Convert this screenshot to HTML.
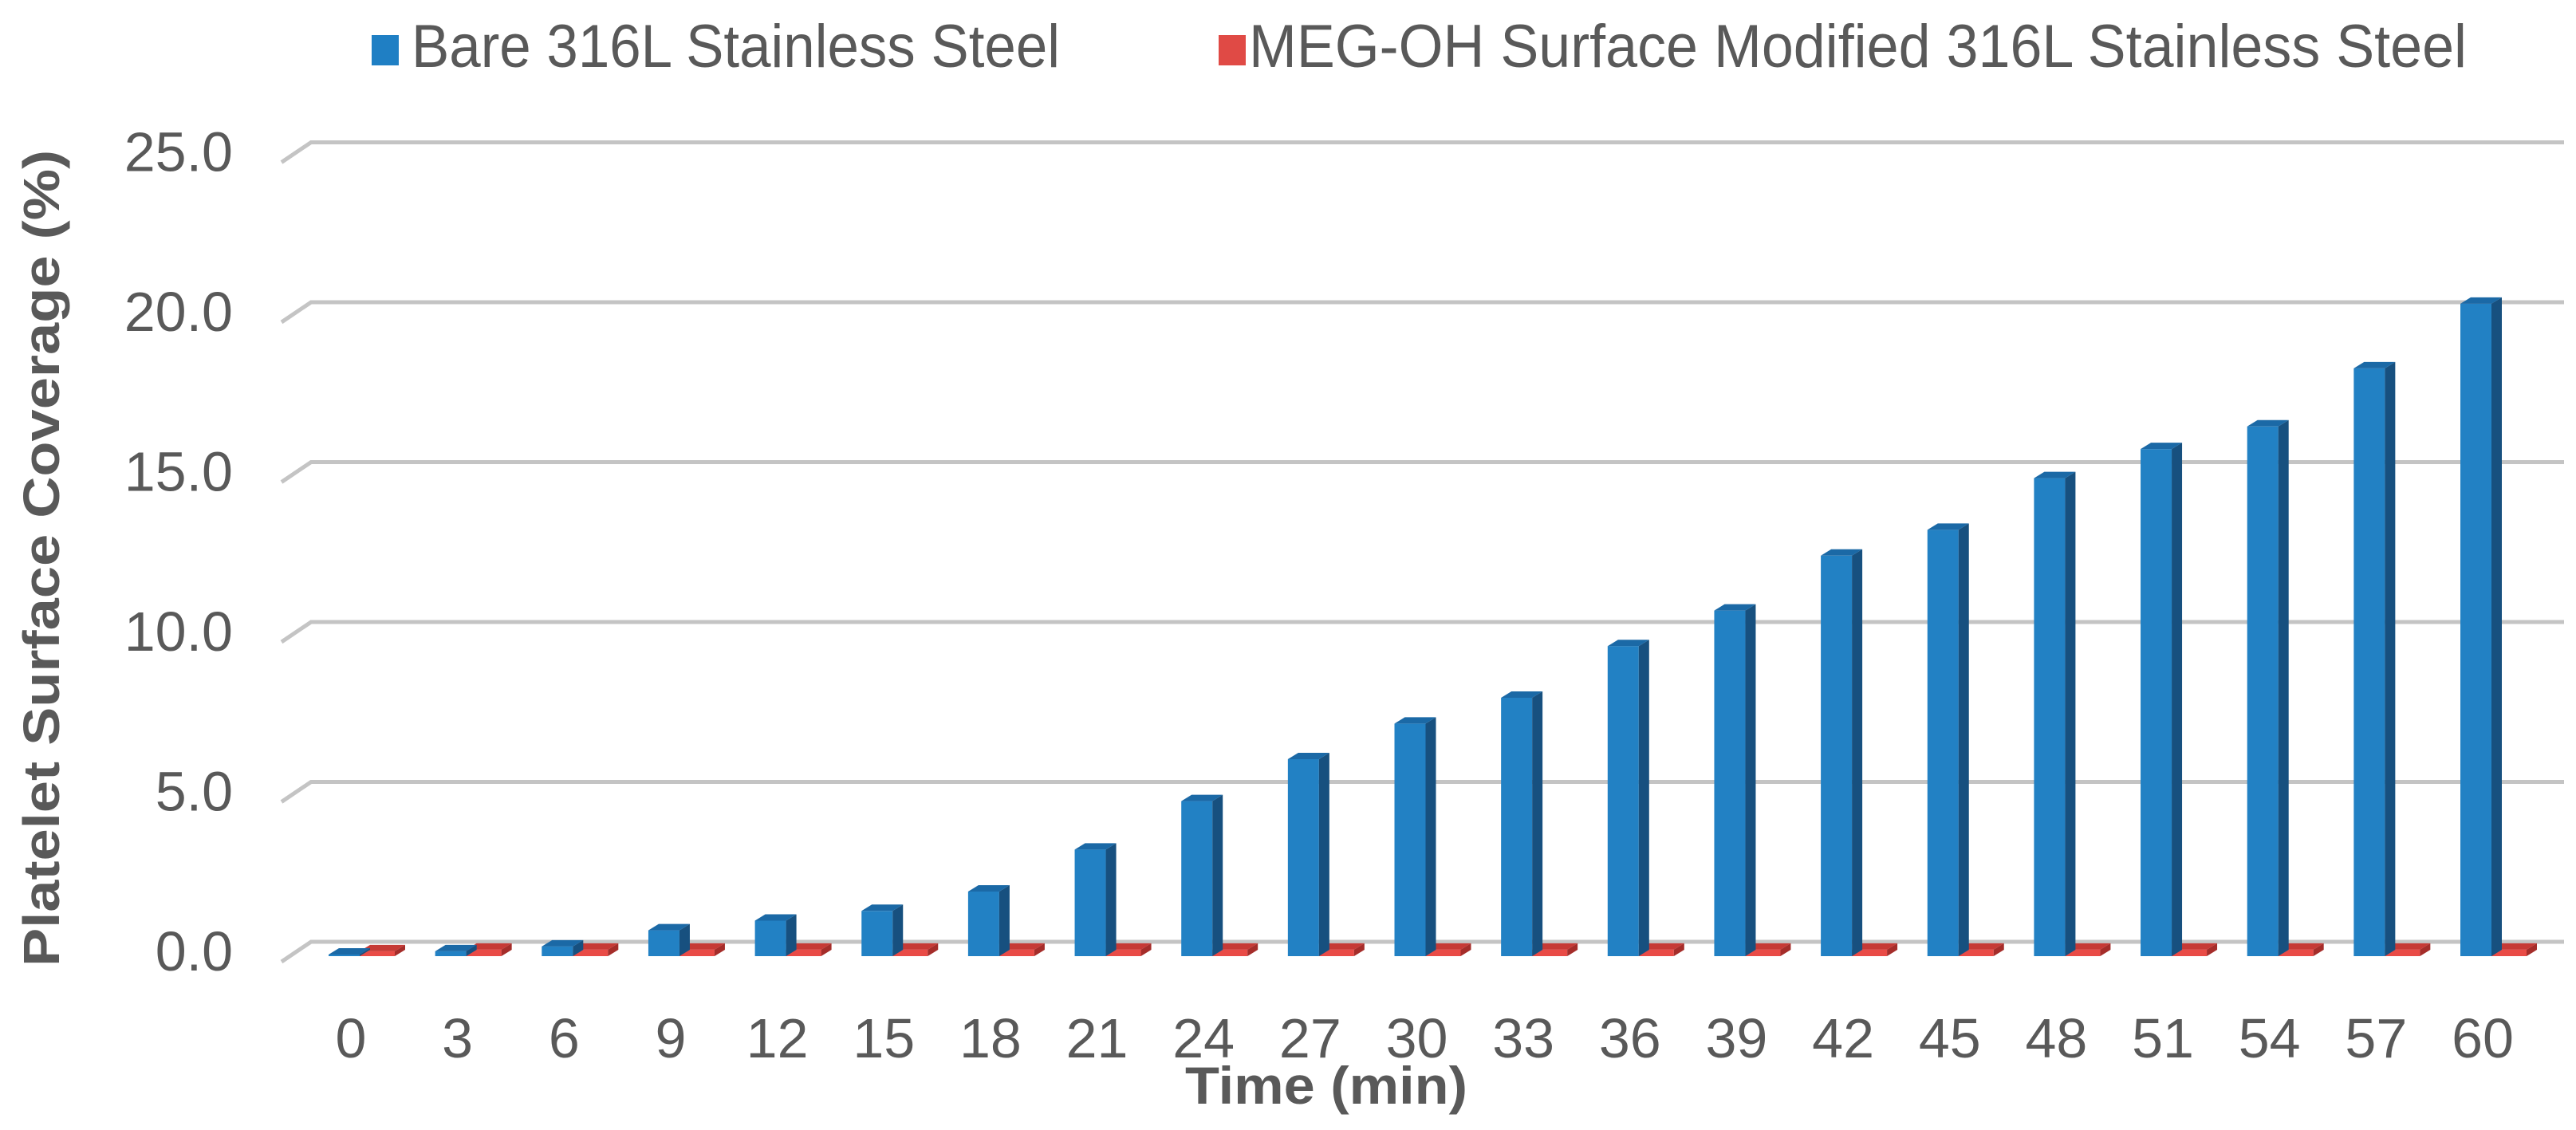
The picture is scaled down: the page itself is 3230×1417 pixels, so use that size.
<!DOCTYPE html>
<html><head><meta charset="utf-8"><style>
html,body{margin:0;padding:0;background:#fff;}
svg{display:block;}
text{font-family:"Liberation Sans",Arial,sans-serif;fill:#595959;}
</style></head><body>
<svg id="chart" width="3230" height="1417" viewBox="0 0 3230 1417" xmlns="http://www.w3.org/2000/svg">
  <rect x="0" y="0" width="3230" height="1417" fill="#fff"/>
  <g id="grid"></g>
  <g id="yticks"></g>
  <g id="bars"></g>
  <g id="xticks"></g>
  <g>
    <g>
      <rect x="466" y="44" width="34" height="38" fill="#1f7fc4"/>
      <text x="516" y="84" font-size="76" textLength="813" lengthAdjust="spacingAndGlyphs">Bare 316L Stainless Steel</text>
    </g>
    <g>
      <rect x="1528" y="44" width="34" height="38" fill="#e04a45"/>
      <text x="1566" y="84" font-size="76" textLength="1527" lengthAdjust="spacingAndGlyphs">MEG-OH Surface Modified 316L Stainless Steel</text>
    </g>
  </g>
  <text x="1663" y="1384" font-size="66" font-weight="bold" text-anchor="middle" textLength="354" lengthAdjust="spacingAndGlyphs">Time (min)</text>
  <text transform="translate(74,700) rotate(-90)" font-size="64" font-weight="bold" text-anchor="middle" textLength="1024" lengthAdjust="spacingAndGlyphs">Platelet Surface Coverage (%)</text>
</svg>
<script>
const categories = ["0","3","6","9","12","15","18","21","24","27","30","33","36","39","42","45","48","51","54","57","60"];
const bareValues = [0.05,0.15,0.3,0.8,1.1,1.4,2.0,3.3,4.8,6.1,7.2,8.0,9.6,10.7,12.4,13.2,14.8,15.7,16.4,18.2,20.2];
const megValues = [0.15,0.2,0.2,0.2,0.2,0.2,0.2,0.2,0.2,0.2,0.2,0.2,0.2,0.2,0.2,0.2,0.2,0.2,0.2,0.2,0.2];
const yTicks = [0,5,10,15,20,25];
const yTickLabels = ["0.0","5.0","10.0","15.0","20.0","25.0"];

const NS = "http://www.w3.org/2000/svg";
const backZeroY = 1181, backPerUnit = 40.1;
const frontZeroY = 1199, frontPerUnit = 40.5;
function yBack(v){ return backZeroY - v*backPerUnit; }
function yFront(v){ return frontZeroY - v*frontPerUnit; }
function xCenter(i){ return 440 + i*133.65; }
function mk(tag, attrs, parent){
  const e = document.createElementNS(NS, tag);
  for (const k in attrs) e.setAttribute(k, attrs[k]);
  parent.appendChild(e);
  return e;
}
const grid = document.getElementById('grid');
const yt = document.getElementById('yticks');
yTicks.forEach((v,i)=>{
  const y = yBack(v);
  const g = mk('g', {}, grid);
  
  
  mk('polyline', {points: `353,${y+25} 390,${y} 3215,${y}`, fill:'none', stroke:'#c4c4c4', 'stroke-width':5}, g);
  const t = mk('text', {x:292, y:y+36, 'font-size':70, 'text-anchor':'end'}, yt);
  t.textContent = yTickLabels[i];
  
  
});
const bars = document.getElementById('bars');
const xt = document.getElementById('xticks');
const bw = 39, sd = 13, td = 8, rw = 44;
categories.forEach((c,i)=>{
  const cx = xCenter(i);
  const x0 = cx - 28;
  const rx = x0 + bw;
  const rTop = yFront(megValues[i]);
  const rg = mk('g', {}, bars);
  
  
  mk('polygon', {points:`${rx},${rTop} ${rx+sd},${rTop-td} ${rx+rw+sd},${rTop-td} ${rx+rw},${rTop}`, fill:'#c63a36'}, rg);
  mk('rect', {x:rx, y:rTop, width:rw, height:frontZeroY-rTop, fill:'#e94b46'}, rg);
  mk('polygon', {points:`${rx+rw},${rTop} ${rx+rw+sd},${rTop-td} ${rx+rw+sd},${frontZeroY-td} ${rx+rw},${frontZeroY}`, fill:'#a52d2a'}, rg);
  const top = yFront(bareValues[i]);
  const bg = mk('g', {}, bars);
  
  
  mk('rect', {x:x0, y:top, width:bw, height:frontZeroY-top, fill:'#2281c4'}, bg);
  mk('polygon', {points:`${x0+bw},${top} ${x0+bw+sd},${top-td} ${x0+bw+sd},${frontZeroY-td} ${x0+bw},${frontZeroY}`, fill:'#17507f'}, bg);
  mk('polygon', {points:`${x0},${top} ${x0+sd},${top-td} ${x0+bw+sd},${top-td} ${x0+bw},${top}`, fill:'#1b69a6'}, bg);
  const t = mk('text', {x:cx, y:1326, 'font-size':70, 'text-anchor':'middle'}, xt);
  t.textContent = c;
  
  
});
</script>
</body></html>
